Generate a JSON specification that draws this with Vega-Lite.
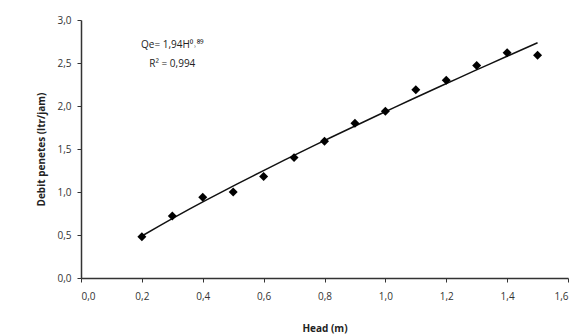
{
  "$schema": "https://vega.github.io/schema/vega-lite/v6.json",
  "width": 487,
  "height": 258,
  "autosize": {"type": "none"},
  "padding": {"left": 81, "top": 20, "right": 10, "bottom": 58},
  "background": "white",
  "config": {
    "view": {"stroke": null},
    "font": "Open Sans",
    "axis": {
      "grid": false,
      "domainColor": "#333",
      "tickColor": "#333",
      "labelColor": "#333",
      "titleColor": "#222",
      "labelFont": "Open Sans",
      "titleFont": "Open Sans",
      "labelFontSize": 10,
      "titleFontSize": 10,
      "titleFontWeight": "bold",
      "domainWidth": 1.5,
      "tickSize": 4
    }
  },
  "data": {
    "values": [
      {"H": 0.2, "Q": 0.48},
      {"H": 0.3, "Q": 0.72},
      {"H": 0.4, "Q": 0.94},
      {"H": 0.5, "Q": 1.0},
      {"H": 0.6, "Q": 1.18},
      {"H": 0.7, "Q": 1.40},
      {"H": 0.8, "Q": 1.59},
      {"H": 0.9, "Q": 1.80},
      {"H": 1.0, "Q": 1.94},
      {"H": 1.1, "Q": 2.19},
      {"H": 1.2, "Q": 2.30},
      {"H": 1.3, "Q": 2.47},
      {"H": 1.4, "Q": 2.62},
      {"H": 1.5, "Q": 2.59}
    ]
  },
  "layer": [
    {
      "transform": [{"regression": "Q", "on": "H", "method": "pow", "extent": [0.2, 1.5]}],
      "mark": {"type": "line", "color": "#111", "strokeWidth": 1.5},
      "encoding": {
        "x": {"field": "H", "type": "quantitative"},
        "y": {"field": "Q", "type": "quantitative"}
      }
    },
    {
      "mark": {"type": "point", "shape": "diamond", "filled": true, "color": "#000", "size": 80, "opacity": 1},
      "encoding": {
        "x": {
          "field": "H", "type": "quantitative",
          "scale": {"domain": [0, 1.6], "nice": false},
          "axis": {"values": [0, 0.2, 0.4, 0.6, 0.8, 1.0, 1.2, 1.4, 1.6], "labelExpr": "replace(format(datum.value, '.1f'), '.', ',')", "title": "Head (m)", "titlePadding": 22, "labelPadding": 9}
        },
        "y": {
          "field": "Q", "type": "quantitative",
          "scale": {"domain": [0, 3], "nice": false},
          "axis": {"values": [0, 0.5, 1, 1.5, 2, 2.5, 3], "labelExpr": "replace(format(datum.value, '.1f'), '.', ',')", "title": "Debit penetes (ltr/jam)", "titlePadding": 10, "labelPadding": 6}
        }
      }
    },
    {
      "data": {"values": [
        {"H": 0.30, "Q": 2.71, "t": "Qe= 1,94H⁰˒⁸⁹"},
        {"H": 0.30, "Q": 2.49, "t": "R² = 0,994"}
      ]},
      "mark": {"type": "text", "fontSize": 10, "color": "#222", "align": "center"},
      "encoding": {
        "x": {"field": "H", "type": "quantitative"},
        "y": {"field": "Q", "type": "quantitative"},
        "text": {"field": "t"}
      }
    }
  ]
}
